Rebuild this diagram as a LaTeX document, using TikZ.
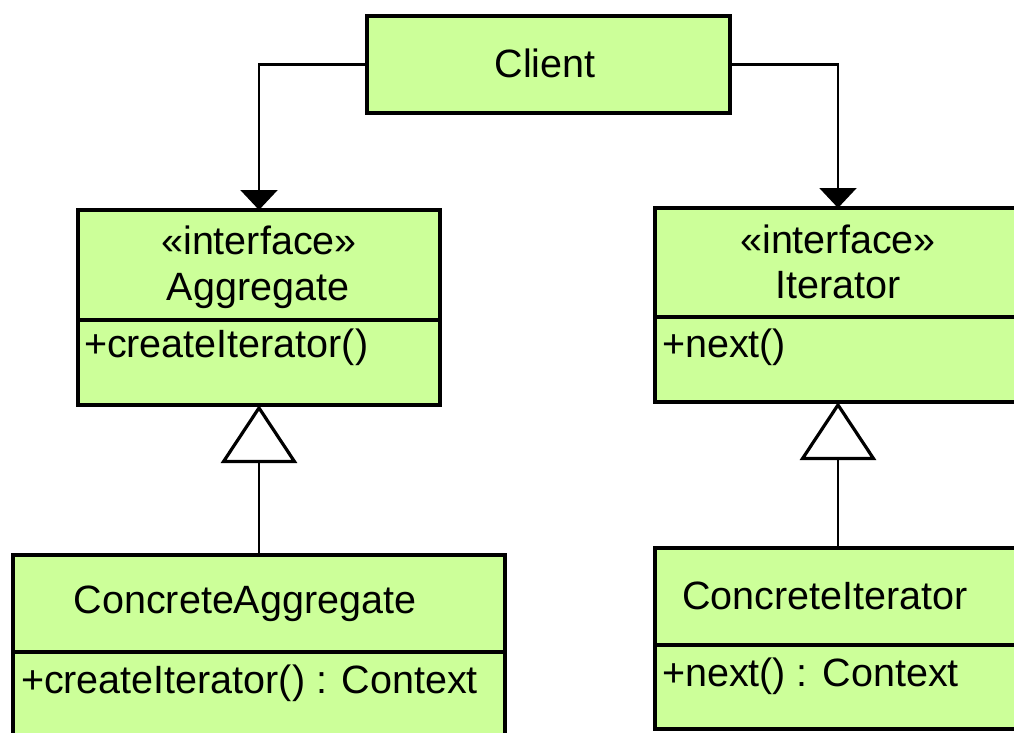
\documentclass[tikz,border=0pt]{standalone}
\usepackage{fontspec}
\setmainfont{Liberation Sans}
\usetikzlibrary{arrows.meta}
\definecolor{umlgreen}{RGB}{204,255,153}
\tikzset{
  classbox/.style={draw=black, fill=umlgreen, line width=3.5pt, rectangle, inner sep=0pt, outer sep=0pt, anchor=north west},
  divider/.style={draw=black, line width=3.5pt},
  txt/.style={inner sep=0pt, outer sep=0pt, font=\fontsize{39.5}{46}\selectfont},
  conn/.style={draw=black, line width=2.2pt, -{Triangle[width=37pt,length=20pt]}},
  generalize/.style={draw=black, line width=2.2pt, -{Triangle[width=76pt,length=58pt,fill=white,line width=3.2pt]}}
}
\begin{document}
\begin{tikzpicture}[x=1pt,y=-1pt]
\useasboundingbox (0,0) rectangle (1014,732);
\clip (0,0) rectangle (1014,732);
\fill[white] (0,0) rectangle (1014,732);

% Client
\node[classbox, minimum width=363pt, minimum height=97pt] (client) at (367,16) {};
\node[txt, anchor=base] (clientT) at (545,77) {Client};

% Aggregate
\node[classbox, minimum width=362pt, minimum height=195pt] (agg) at (78,210) {};
\draw[divider] (78,320) -- (440,320);
\node[txt, anchor=base] (aggS) at (259,254) {«interface»};
\node[txt, anchor=base] (aggT) at (258,300) {Aggregate};
\node[txt, anchor=base west] (aggM) at (84,357) {+createIterator()};

% Iterator
\node[classbox, minimum width=366pt, minimum height=194pt] (iter) at (655,208) {};
\draw[divider] (655,317) -- (1021,317);
\node[txt, anchor=base] (iterS) at (838,253) {«interface»};
\node[txt, anchor=base] (iterT) at (838,298) {Iterator};
\node[txt, anchor=base west] (iterM) at (662,357) {+next()};

% ConcreteAggregate
\node[classbox, minimum width=492pt, minimum height=200pt] (cagg) at (13,555) {};
\draw[divider] (13,652) -- (505,652);
\node[txt, anchor=base] (caggT) at (245,613) {ConcreteAggregate};
\node[txt, anchor=base west] (caggM) at (21,693) {+createIterator() : Context};

% ConcreteIterator
\node[classbox, minimum width=366pt, minimum height=181pt] (citer) at (655,548) {};
\draw[divider] (655,645) -- (1021,645);
\node[txt, anchor=base] (citerT) at (825,609) {ConcreteIterator};
\node[txt, anchor=base west] (citerM) at (662,686) {+next() : Context};

% connectors
\draw[conn] (client.west) -| (agg.north);
\draw[conn] (client.east) -| (iter.north);
\draw[generalize] (cagg.north) -- (agg.south);
\draw[generalize] (citer.north) -- (iter.south);
\end{tikzpicture}
\end{document}
